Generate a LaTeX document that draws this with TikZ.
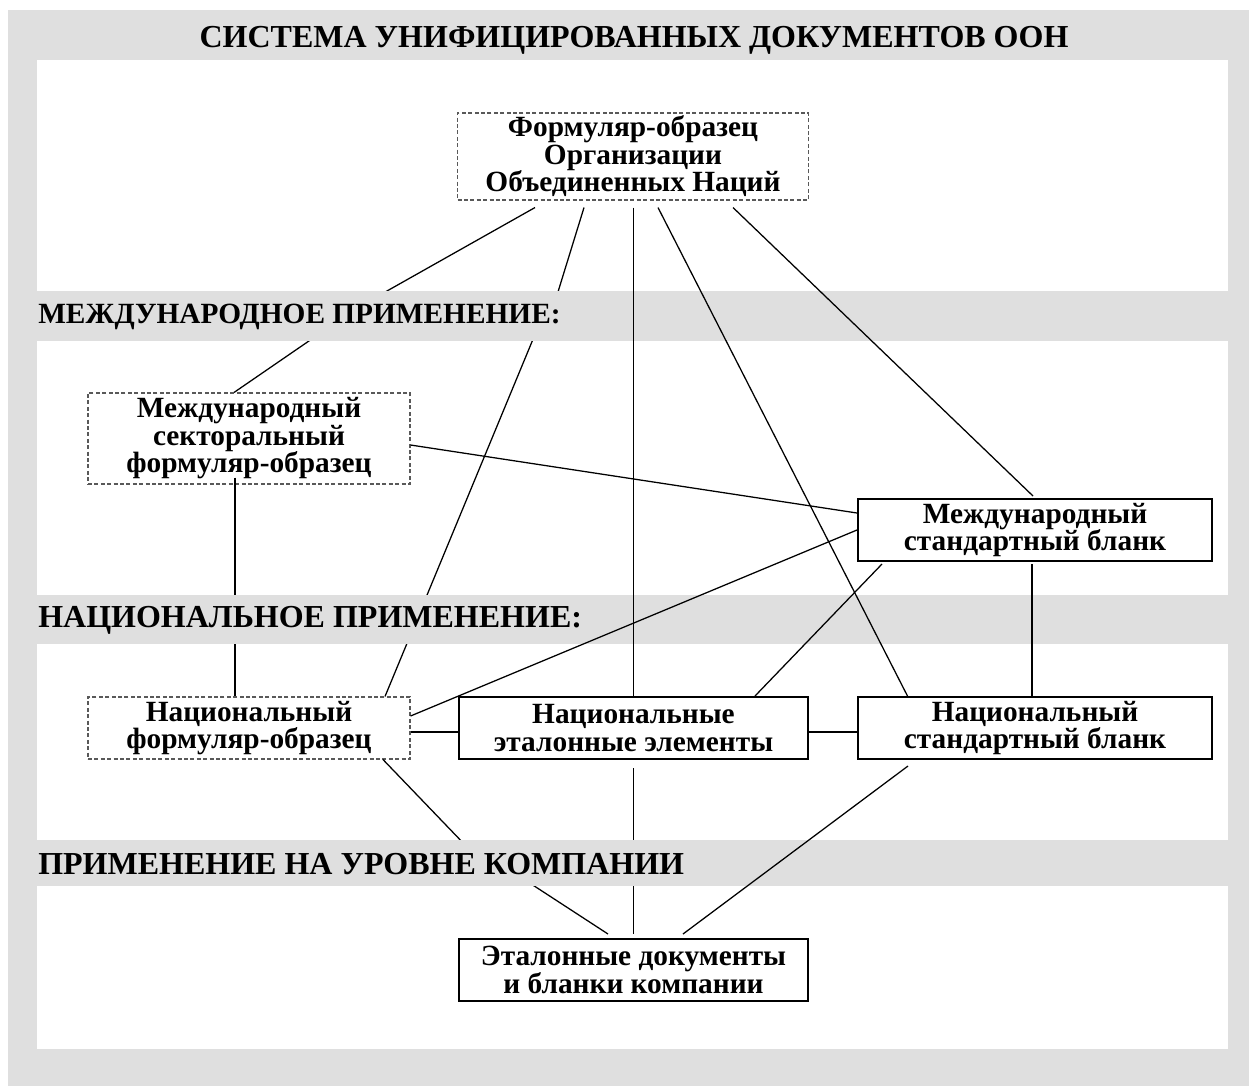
\documentclass[tikz,border=0pt]{standalone}
\usepackage{fontspec}
\setmainfont{Liberation Serif}
\usetikzlibrary{calc}
\definecolor{bandgray}{RGB}{223,223,223}
\begin{document}
\begin{tikzpicture}[x=0.75pt,y=-0.75pt,
  conn/.style={line width=0.95pt, line join=round},
  boxtext/.style={align=center, inner sep=0pt, font=\fontsize{22}{20.6}\selectfont\bfseries},
  solidbox/.style={boxtext, draw, line width=1.5pt, fill=white},
  dashbox/.style={boxtext, draw=black!65, dash pattern=on 3pt off 1.8pt, line width=0.8pt, fill=white},
  bandlabel/.style={anchor=west, inner sep=0pt, font=\bfseries}]
\useasboundingbox (0,0) rectangle (1249,1086);
% background and panels
\fill[bandgray] (8,10) rectangle (1249,1086);
\fill[white] (37,60) rectangle (1228,291);
\fill[white] (37,341) rectangle (1228,595);
\fill[white] (37,644) rectangle (1228,840);
\fill[white] (37,886) rectangle (1228,1049);
% title
\node[font=\fontsize{24}{26}\selectfont\bfseries, inner sep=0pt] (title) at (634,40) {СИСТЕМА УНИФИЦИРОВАННЫХ ДОКУМЕНТОВ ООН};
% boxes
\node[dashbox, minimum width={351*0.75pt}, minimum height={87*0.75pt}] (un) at (633,156.5) {Формуляр-образец\\Организации\\Объединенных Наций};
\node[dashbox, minimum width={322*0.75pt}, minimum height={91*0.75pt}] (sect) at (249,438.5) {Международный\\секторальный\\формуляр-образец};
\node[solidbox, minimum width={354*0.75pt}, minimum height={62*0.75pt}] (istd) at (1035,530) {Международный\\стандартный бланк};
\node[dashbox, minimum width={322*0.75pt}, minimum height={62*0.75pt}] (nf) at (249,728) {Национальный\\формуляр-образец};
\node[solidbox, minimum width={349*0.75pt}, minimum height={62*0.75pt}] (nref) at (633.5,728) {Национальные\\эталонные элементы};
\node[solidbox, minimum width={354*0.75pt}, minimum height={62*0.75pt}] (nstd) at (1035,728) {Национальный\\стандартный бланк};
\node[solidbox, minimum width={349*0.75pt}, minimum height={62*0.75pt}] (comp) at (633.5,970) {Эталонные документы\\и бланки компании};
% hidden bend points inside the bands
\coordinate (c1a) at (371,300); \coordinate (c1b) at (322,332);
\coordinate (c2a) at (555.5,300); \coordinate (c2b) at (536,332);
\coordinate (c13a) at (468,848); \coordinate (c13b) at (522,878);
% connectors
\draw[conn] ($(un.south)+(-98,7)$) -- (c1a) -- (c1b) -- ($(sect.north)+(-15,0)$);
\draw[conn] ($(un.south)+(-49,7)$) -- (c2a) -- (c2b) -- ($(nf.north)+(136,0)$);
\draw[conn] ($(un.south)+(0.5,7)$) -- (nref.north);
\draw[conn] ($(un.south)+(25,7)$) -- ($(nstd.north)+(-127,1)$);
\draw[conn] ($(un.south)+(100,7)$) -- ($(istd.north)+(-2,-2)$);
\draw[conn] ($(sect.east)+(0,6.5)$) -- ($(istd.west)+(0,-17)$);
\draw[conn] ($(sect.south)+(-14,-7)$) -- ($(nf.north)+(-14,0)$);
\draw[conn] (istd.west) -- ($(nf.east)+(0,-12)$);
\draw[conn] ($(istd.south west)+(25,2)$) -- ($(nref.north)+(121.5,0)$);
\draw[conn] ($(istd.south)+(-3,2)$) -- ($(nstd.north)+(-3,0)$);
\draw[conn] ($(nf.east)+(0,4)$) -- ($(nref.west)+(0,4)$);
\draw[conn] ($(nref.east)+(0,4)$) -- ($(nstd.west)+(0,4)$);
\draw[conn] ($(nf.south)+(134,0)$) -- (c13a) -- (c13b) -- ($(comp.north)+(-25.5,-4)$);
\draw[conn] ($(nref.south)+(0,8)$) -- ($(comp.north)+(0,-4)$);
\draw[conn] ($(nstd.south)+(-127,6)$) -- ($(comp.north)+(49.5,-4)$);
% band labels covering the lines
\fill[bandgray] (37,291) rectangle (600,341);
\node[bandlabel, font=\fontsize{22}{24}\selectfont\bfseries] (band2) at (38,317) {МЕЖДУНАРОДНОЕ ПРИМЕНЕНИЕ:};
\fill[bandgray] (37,595) rectangle (580,644);
\node[bandlabel, font=\fontsize{24}{26}\selectfont\bfseries] (band3) at (38,620) {НАЦИОНАЛЬНОЕ ПРИМЕНЕНИЕ:};
\fill[bandgray] (37,840) rectangle (700,886);
\node[bandlabel, font=\fontsize{24}{26}\selectfont\bfseries] (band4) at (38,864) {ПРИМЕНЕНИЕ НА УРОВНЕ КОМПАНИИ};
\end{tikzpicture}
\end{document}
